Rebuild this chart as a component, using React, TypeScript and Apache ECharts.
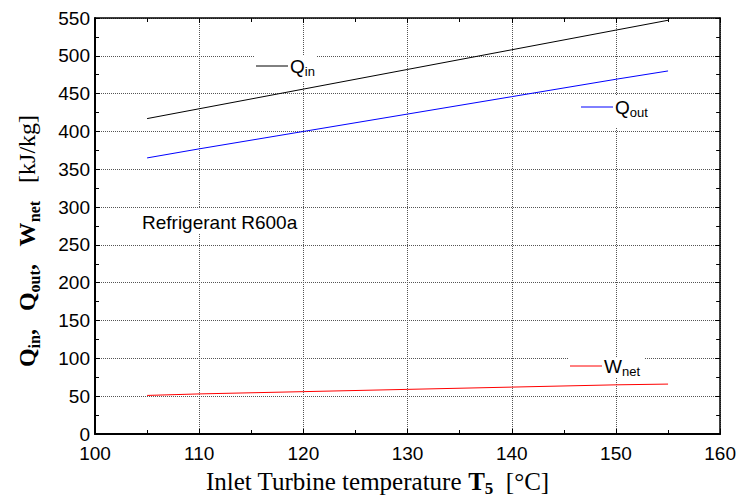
import React, { useEffect, useRef } from "react";
import * as echarts from "echarts";

const temps = [105, 110, 120, 130, 140, 150, 155];
const qIn = [417, 430, 456, 482, 508, 534, 547];
const qOut = [365, 377, 400, 423, 446, 469, 480];
const wNet = [51, 53, 56, 59, 62, 65, 66];

const xMin = 100, xMax = 160, xStep = 10;
const yMin = 0, yMax = 550, yStep = 50;

const SANS = "'Liberation Sans', Arial, sans-serif";
const SERIF = "'Liberation Serif', 'Times New Roman', serif";

function pairs(ys: number[]) {
  return temps.map((t, i) => [t, ys[i]]);
}

function legendLabel(x: number, y: number, boxW: number, boxH: number, boxTop: number, color: string, main: string, sub: string) {
  return {
    type: "group",
    z: 50,
    children: [
      { type: "rect", shape: { x: x - 2, y: boxTop, width: boxW, height: boxH }, style: { fill: "#fff" }, z: 50 },
      { type: "line", shape: { x1: x, y1: y, x2: x + 32, y2: y }, style: { stroke: color, lineWidth: 1 }, z: 51 },
      {
        type: "text",
        x: x + 34,
        y: y,
        z: 51,
        style: {
          text: `{m|${main}}{s|${sub}}`,
          textAlign: "left",
          textVerticalAlign: "middle",
          rich: {
            m: { fontFamily: SANS, fontSize: 19, fill: "#000", color: "#000", lineHeight: 24, verticalAlign: "middle" },
            s: { fontFamily: SANS, fontSize: 13, fill: "#000", color: "#000", lineHeight: 14, verticalAlign: "bottom" },
          },
        },
      },
    ],
  };
}

function titleRich(size: number, sub: number) {
  return {
    n: { fontFamily: SERIF, fontSize: size, fill: "#000", color: "#000", lineHeight: size + 6, verticalAlign: "middle" },
    b: { fontFamily: SERIF, fontSize: size, fontWeight: "bold", fill: "#000", color: "#000", lineHeight: size + 6, verticalAlign: "middle" },
    bs: { fontFamily: SERIF, fontSize: sub, fontWeight: "bold", fill: "#000", color: "#000", lineHeight: sub, verticalAlign: "bottom" },
  };
}

export default function App() {
  const ref = useRef<HTMLDivElement>(null);
  useEffect(() => {
    if (!ref.current) return;
    const chart = echarts.init(ref.current, undefined, { renderer: "svg" });
    const tickStyle = { show: true, inside: true, length: 5, lineStyle: { color: "#000", width: 1 } };
    const minorStyle = { show: true, splitNumber: 2, length: 4, lineStyle: { color: "#000", width: 1 } };
    const axisLine = { show: true, onZero: false, lineStyle: { color: "#000", width: 2 } };
    const splitLine = { show: true, lineStyle: { color: "#555", type: "dotted", width: 1 } };
    const label = { color: "#000", fontFamily: SANS, fontSize: 19 };
    chart.setOption({
      animation: false,
      backgroundColor: "#fff",
      grid: { left: 95, right: 17, top: 18, bottom: 66, containLabel: false },
      xAxis: [
        {
          type: "value", position: "bottom", min: xMin, max: xMax, interval: xStep,
          axisLine, axisTick: tickStyle, minorTick: minorStyle, splitLine,
          axisLabel: { ...label, margin: 10 },
        },
        {
          type: "value", position: "top", min: xMin, max: xMax, interval: xStep,
          axisLine: { ...axisLine, lineStyle: { color: "#000", width: 1.5 } }, axisTick: tickStyle, minorTick: minorStyle,
          splitLine: { show: false }, axisLabel: { show: false },
        },
      ],
      yAxis: [
        {
          type: "value", position: "left", min: yMin, max: yMax, interval: yStep,
          axisLine, axisTick: tickStyle, minorTick: minorStyle, splitLine,
          axisLabel: { ...label, margin: 5 },
        },
        {
          type: "value", position: "right", min: yMin, max: yMax, interval: yStep,
          axisLine: { ...axisLine, lineStyle: { color: "#000", width: 1.5 } }, axisTick: tickStyle, minorTick: minorStyle,
          splitLine: { show: false }, axisLabel: { show: false },
        },
      ],
      series: [
        { type: "line", name: "Qin", data: pairs(qIn), showSymbol: false, lineStyle: { color: "#000", width: 1 }, z: 5 },
        { type: "line", name: "Qout", data: pairs(qOut), showSymbol: false, lineStyle: { color: "#0000ff", width: 1 }, z: 5 },
        { type: "line", name: "Wnet", data: pairs(wNet), showSymbol: false, lineStyle: { color: "#ff0000", width: 1 }, z: 5 },
      ],
      graphic: [
        legendLabel(256, 66, 62, 27, 55, "#000", "Q", "in"),
        legendLabel(581, 107, 72, 31, 96, "#0000ff", "Q", "out"),
        legendLabel(570, 366, 77, 20, 357, "#ff0000", "W", "net"),
        { type: "rect", z: 50, shape: { x: 140, y: 208, width: 163, height: 26 }, style: { fill: "#fff" } },
        {
          type: "text", z: 51, x: 142, y: 222,
          style: { text: "Refrigerant R600a", font: `19px ${SANS}`, fill: "#000", textAlign: "left", textVerticalAlign: "middle" },
        },
        {
          type: "text", z: 51, x: 206, y: 481,
          style: {
            text: "{n|Inlet Turbine temperature }{b|T}{bs|5}{n|  [°C]}",
            textAlign: "left",
            textVerticalAlign: "middle",
            rich: titleRich(25, 17),
          },
        },
        {
          type: "text", z: 51, x: 27, y: 241, rotation: Math.PI / 2,
          style: {
            text: "{b|Q}{bs|in}{b|,   Q}{bs|out}{b|,   W}{bs|net}{n|   [kJ/kg]}",
            textAlign: "center",
            textVerticalAlign: "middle",
            rich: titleRich(24, 16),
          },
        },
      ],
    });
    return () => chart.dispose();
  }, []);
  return <div ref={ref} style={{ width: 739, height: 500, position: "absolute", left: 0, top: 0 }} />;
}
